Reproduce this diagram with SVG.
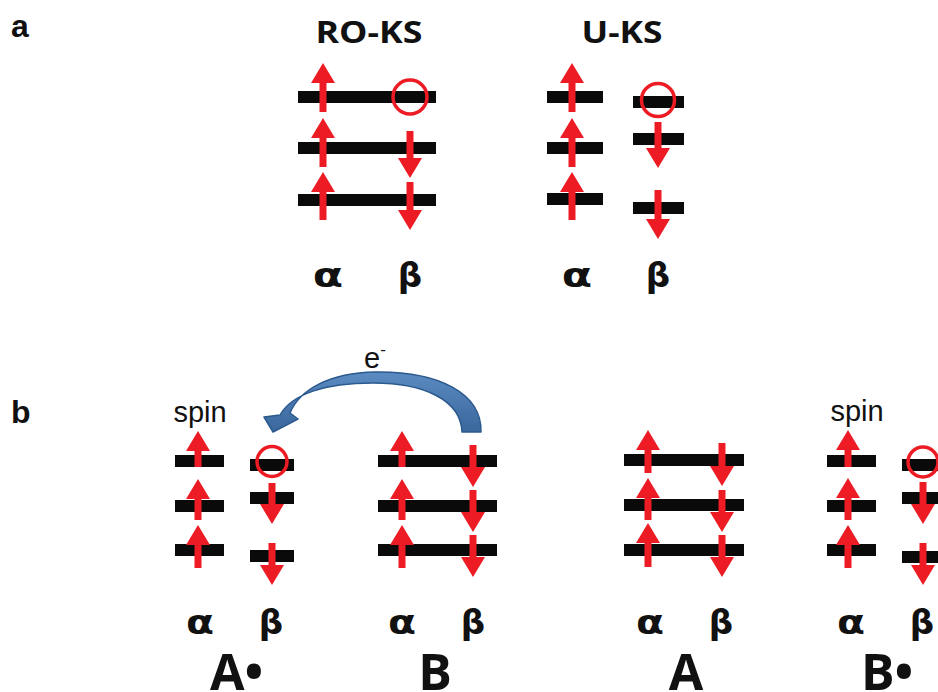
<svg xmlns="http://www.w3.org/2000/svg" width="938" height="692" viewBox="0 0 938 692">
<style>
.bar{fill:#0a0a0a}
.sp{fill:#ed1c24}
.hole{fill:none;stroke:#ed1c24;stroke-width:3.5}
.title{font-family:"Open Sans","DejaVu Sans",sans-serif;font-weight:bold;font-size:31px;text-anchor:middle;fill:#111}
.gr{font-family:"DejaVu Sans",sans-serif;font-weight:bold;font-size:34px;text-anchor:middle;fill:#111}
.big{font-family:"Open Sans","DejaVu Sans",sans-serif;font-weight:bold;font-size:50px;fill:#111}
.lab{font-family:"Liberation Sans",Arial,sans-serif;font-weight:bold;font-size:32px;fill:#111}
.sm{font-family:"Liberation Sans",Arial,sans-serif;font-size:29px;fill:#111;text-anchor:middle}
</style>
<defs>
<linearGradient id="bl" x1="0" y1="0" x2="0" y2="1">
<stop offset="0" stop-color="#5b8bc2"/>
<stop offset="1" stop-color="#3a679c"/>
</linearGradient>
</defs>
<rect width="938" height="692" fill="#fff"/>

<text class="lab" x="11" y="37">a</text>
<text class="lab" x="11" y="423">b</text>

<g id="ro-ks">
<text class="title" x="369" y="43" textLength="107" lengthAdjust="spacingAndGlyphs">RO-KS</text>
<rect class="bar" x="298" y="91" width="138" height="12"/>
<rect class="bar" x="298" y="142" width="138" height="12"/>
<rect class="bar" x="298" y="194" width="138" height="12"/>
<path class="sp" d="M323 63 L335 83 L326.5 83 L326.5 112 L319.5 112 L319.5 83 L311 83Z"/>
<path class="sp" d="M323 118 L335 138 L326.5 138 L326.5 167 L319.5 167 L319.5 138 L311 138Z"/>
<path class="sp" d="M323 172 L335 192 L326.5 192 L326.5 220 L319.5 220 L319.5 192 L311 192Z"/>
<circle class="hole" cx="410" cy="97" r="17"/>
<path class="sp" d="M406.5 131 L413.5 131 L413.5 158 L422 158 L410 178 L398 158 L406.5 158Z"/>
<path class="sp" d="M406.5 182 L413.5 182 L413.5 210 L422 210 L410 230 L398 210 L406.5 210Z"/>
<text class="gr" transform="translate(328 287) scale(1.3 1)">α</text>
<text class="gr" x="410" y="287">β</text>
</g>

<g id="u-ks">
<text class="title" x="622" y="43" textLength="81" lengthAdjust="spacingAndGlyphs">U-KS</text>
<rect class="bar" x="547" y="91" width="56" height="12"/>
<rect class="bar" x="547" y="142" width="56" height="12"/>
<rect class="bar" x="547" y="193" width="56" height="12"/>
<path class="sp" d="M572 63 L584 83 L575.5 83 L575.5 112 L568.5 112 L568.5 83 L560 83Z"/>
<path class="sp" d="M572 118 L584 138 L575.5 138 L575.5 167 L568.5 167 L568.5 138 L560 138Z"/>
<path class="sp" d="M572 172 L584 192 L575.5 192 L575.5 220 L568.5 220 L568.5 192 L560 192Z"/>
<rect class="bar" x="633" y="96" width="51" height="12"/>
<rect class="bar" x="633" y="133" width="51" height="12"/>
<rect class="bar" x="633" y="202" width="51" height="12"/>
<circle class="hole" cx="658" cy="100" r="16.5"/>
<path class="sp" d="M654.5 122 L661.5 122 L661.5 148 L670 148 L658 168 L646 148 L654.5 148Z"/>
<path class="sp" d="M654.5 190 L661.5 190 L661.5 219 L670 219 L658 239 L646 219 L654.5 219Z"/>
<text class="gr" transform="translate(577 287) scale(1.3 1)">α</text>
<text class="gr" x="658" y="287">β</text>
</g>

<g id="a-radical">
<text class="sm" x="200" y="422">spin</text>
<rect class="bar" x="175" y="455" width="49" height="12"/>
<rect class="bar" x="175" y="500" width="49" height="12"/>
<rect class="bar" x="175" y="544" width="49" height="12"/>
<path class="sp" d="M198 431 L210 451 L201.5 451 L201.5 467 L194.5 467 L194.5 451 L186 451Z"/>
<path class="sp" d="M198 479 L210 499 L201.5 499 L201.5 520 L194.5 520 L194.5 499 L186 499Z"/>
<path class="sp" d="M198 525 L210 545 L201.5 545 L201.5 568 L194.5 568 L194.5 545 L186 545Z"/>
<rect class="bar" x="250" y="459" width="44" height="12"/>
<rect class="bar" x="250" y="492" width="44" height="12"/>
<rect class="bar" x="250" y="550" width="44" height="12"/>
<circle class="hole" cx="272" cy="461.5" r="15"/>
<path class="sp" d="M268.5 483 L275.5 483 L275.5 504 L284 504 L272 524 L260 504 L268.5 504Z"/>
<path class="sp" d="M268.5 543 L275.5 543 L275.5 565 L284 565 L272 585 L260 565 L268.5 565Z"/>
<text class="gr" transform="translate(200 634) scale(1.2 1)">α</text>
<text class="gr" x="271" y="634">β</text>
<text class="big" x="210" y="690">A•</text>
</g>

<g id="b-molecule">
<rect class="bar" x="378" y="455" width="119" height="12"/>
<rect class="bar" x="378" y="500" width="119" height="12"/>
<rect class="bar" x="378" y="544" width="119" height="12"/>
<path class="sp" d="M402 431 L414 451 L405.5 451 L405.5 467 L398.5 467 L398.5 451 L390 451Z"/>
<path class="sp" d="M402 479 L414 499 L405.5 499 L405.5 520 L398.5 520 L398.5 499 L390 499Z"/>
<path class="sp" d="M402 525 L414 545 L405.5 545 L405.5 568 L398.5 568 L398.5 545 L390 545Z"/>
<path class="sp" d="M469.5 445 L476.5 445 L476.5 467 L485 467 L473 487 L461 467 L469.5 467Z"/>
<path class="sp" d="M469.5 490 L476.5 490 L476.5 512 L485 512 L473 532 L461 512 L469.5 512Z"/>
<path class="sp" d="M469.5 535 L476.5 535 L476.5 557 L485 557 L473 577 L461 557 L469.5 557Z"/>
<text class="gr" transform="translate(402 634) scale(1.2 1)">α</text>
<text class="gr" x="473" y="634">β</text>
<text class="big" x="435" y="690" text-anchor="middle">B</text>
</g>

<g id="a-molecule">
<rect class="bar" x="624" y="454" width="120" height="12"/>
<rect class="bar" x="624" y="499" width="120" height="12"/>
<rect class="bar" x="624" y="544" width="120" height="12"/>
<path class="sp" d="M648 430 L660 450 L651.5 450 L651.5 473 L644.5 473 L644.5 450 L636 450Z"/>
<path class="sp" d="M648 478 L660 498 L651.5 498 L651.5 520 L644.5 520 L644.5 498 L636 498Z"/>
<path class="sp" d="M648 523 L660 543 L651.5 543 L651.5 567 L644.5 567 L644.5 543 L636 543Z"/>
<path class="sp" d="M718.5 443 L725.5 443 L725.5 466 L734 466 L722 486 L710 466 L718.5 466Z"/>
<path class="sp" d="M718.5 490 L725.5 490 L725.5 512 L734 512 L722 532 L710 512 L718.5 512Z"/>
<path class="sp" d="M718.5 535 L725.5 535 L725.5 557 L734 557 L722 577 L710 557 L718.5 557Z"/>
<text class="gr" transform="translate(650 634) scale(1.2 1)">α</text>
<text class="gr" x="721" y="634">β</text>
<text class="big" x="686" y="690" text-anchor="middle">A</text>
</g>

<g id="b-radical">
<text class="sm" x="857" y="421">spin</text>
<rect class="bar" x="827" y="455" width="49" height="12"/>
<rect class="bar" x="827" y="500" width="49" height="12"/>
<rect class="bar" x="827" y="544" width="49" height="12"/>
<path class="sp" d="M848 430 L860 450 L851.5 450 L851.5 467 L844.5 467 L844.5 450 L836 450Z"/>
<path class="sp" d="M848 478 L860 498 L851.5 498 L851.5 520 L844.5 520 L844.5 498 L836 498Z"/>
<path class="sp" d="M848 525 L860 545 L851.5 545 L851.5 568 L844.5 568 L844.5 545 L836 545Z"/>
<rect class="bar" x="902" y="459" width="44" height="12"/>
<rect class="bar" x="902" y="492" width="44" height="12"/>
<rect class="bar" x="902" y="551" width="44" height="12"/>
<circle class="hole" cx="923" cy="462" r="15"/>
<path class="sp" d="M919.5 482 L926.5 482 L926.5 504 L935 504 L923 524 L911 504 L919.5 504Z"/>
<path class="sp" d="M919.5 543 L926.5 543 L926.5 565 L935 565 L923 585 L911 565 L919.5 565Z"/>
<text class="gr" transform="translate(851 634) scale(1.2 1)">α</text>
<text class="gr" x="922" y="634">β</text>
<text class="big" x="861" y="690">B•</text>
</g>

<g id="connectors">
<path d="M462 432 L481 432 C482 394 440 371 375 372 C330 373 300 389 290 413 L298 419 L273 432 L264 417 L280 415 C292 394 325 383 373 383 C424 383 461 400 462 432 Z" fill="url(#bl)" stroke="#2c5a8e" stroke-width="1.5" stroke-linejoin="round"/>
<text class="sm" x="375" y="368">e<tspan font-size="17" dy="-13">-</tspan></text>
</g>
</svg>
